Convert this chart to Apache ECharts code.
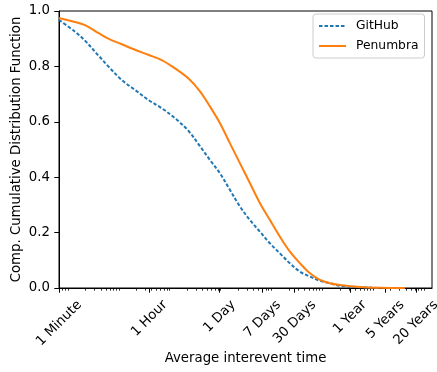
<!DOCTYPE html>
<html><head><meta charset="utf-8">
<script src="https://cdn.jsdelivr.net/npm/echarts@6/dist/echarts.min.js"></script>
<style>html,body{margin:0;padding:0;background:#fff}#c{width:437px;height:372px}</style>
</head><body><div id="c"></div>
<script>
// Average interevent time (seconds)
const intereventSeconds = [60, 124, 195, 355, 560, 1026, 1875, 3422, 6280, 11460, 20940, 35530, 55960, 87900, 138300, 217700, 342000, 538000, 847000, 1330000, 2090000, 3300000, 5180000, 8150000, 12800000, 20100000, 49800000, 123000000, 382000000];
const githubCCDF   = [0.968, 0.925, 0.893, 0.840, 0.800, 0.751, 0.715, 0.679, 0.649, 0.613, 0.568, 0.512, 0.462, 0.414, 0.354, 0.294, 0.245, 0.203, 0.161, 0.125, 0.089, 0.059, 0.041, 0.026, 0.017, 0.008, 0.003, 0.0, null];
const penumbraCCDF = [0.975, 0.960, 0.949, 0.921, 0.900, 0.880, 0.860, 0.842, 0.823, 0.793, 0.757, 0.710, 0.655, 0.595, 0.522, 0.450, 0.378, 0.306, 0.245, 0.185, 0.131, 0.089, 0.053, 0.029, 0.017, 0.011, 0.004, 0.001, 0.0];
const tickSeconds = [60, 3600, 86400, 604800, 2592000, 31536000, 157680000, 630720000];
const tickLabels  = ['1 Minute', '1 Hour', '1 Day', '7 Days', '30 Days', '1 Year', '5 Years', '20 Years'];
const seriesNames = ['GitHub', 'Penumbra'];

const FONT = '"DejaVu Sans", sans-serif';
const FS = 13.3;
const LFS = 12.3;
const X_MIN = 60, X_MAX = 1.3e9;

const ctx = document.createElement('canvas').getContext('2d');
ctx.font = FS + 'px "DejaVu Sans"';
const rich = {};
tickLabels.forEach((t, i) => {
  const q = ctx.measureText(t).width / 2;
  rich['t' + i] = { fontSize: FS, fontFamily: FONT, color: '#000', padding: [q, q, 0, 0] };
});

const minorTicks = [];
for (let e = 1; e <= 9; e++) for (let k = 2; k <= 9; k++) {
  const v = k * Math.pow(10, e);
  if (v > X_MIN && v < X_MAX) minorTicks.push(v);
}

function labelFor(v) {
  for (let i = 0; i < tickSeconds.length; i++) {
    if (Math.abs(Math.log10(v) - Math.log10(tickSeconds[i])) < 1e-4) return '{t' + i + '|' + tickLabels[i] + '}';
  }
  return '';
}

const chart = echarts.init(document.getElementById('c'), null, { renderer: 'canvas' });
chart.setOption({
  animation: false,
  backgroundColor: '#fff',
  textStyle: { fontFamily: FONT },
  grid: { left: 59, right: 5, top: 11, bottom: 84, show: true, borderColor: '#000', borderWidth: 1, containLabel: false, outerBoundsMode: 'none' },
  legend: {
    data: seriesNames, orient: 'vertical', left: 313, top: 14,
    itemWidth: 27, itemHeight: 10, itemGap: 6,
    padding: [5, 6, 5, 5],
    borderColor: '#cccccc', borderWidth: 1, borderRadius: 3, backgroundColor: '#fff',
    itemStyle: { opacity: 0, borderWidth: 0 },
    textStyle: { fontSize: LFS, fontFamily: FONT, color: '#000', padding: [0, 0, 0, 5], lineHeight: 14 }
  },
  xAxis: [{
    type: 'log', logBase: 10, min: X_MIN, max: X_MAX, position: 'bottom',
    name: 'Average interevent time', nameLocation: 'middle', nameGap: 64, nameMoveOverlap: false,
    nameTextStyle: { fontSize: FS, fontFamily: FONT, color: '#000' },
    axisLine: { show: true, lineStyle: { color: '#000', width: 1 } },
    axisTick: { show: true, customValues: tickSeconds, length: 4.7, lineStyle: { color: '#000', width: 1 } },
    axisLabel: { show: true, customValues: tickSeconds, rotate: 45, align: 'center', verticalAlign: 'middle', margin: 14.8, formatter: labelFor, rich: rich, fontSize: FS, fontFamily: FONT, color: '#000' },
    splitLine: { show: false }, minorTick: { show: false }
  }, {
    type: 'log', logBase: 10, min: X_MIN, max: X_MAX, position: 'bottom',
    axisLine: { show: false },
    axisTick: { show: true, customValues: minorTicks, length: 2.7, lineStyle: { color: '#000', width: 0.8 } },
    axisLabel: { show: false },
    splitLine: { show: false }
  }],
  yAxis: {
    type: 'value', min: 0, max: 1, interval: 0.2,
    name: 'Comp. Cumulative Distribution Function', nameLocation: 'middle', nameGap: 36, nameMoveOverlap: false,
    nameTextStyle: { fontSize: FS, fontFamily: FONT, color: '#000' },
    axisLine: { show: true, lineStyle: { color: '#000', width: 1 } },
    axisTick: { show: true, length: 4.7, lineStyle: { color: '#000', width: 1 } },
    axisLabel: { formatter: v => v.toFixed(1), fontSize: FS, fontFamily: FONT, color: '#000', margin: 9 },
    splitLine: { show: false }
  },
  series: [{
    name: seriesNames[0], type: 'line', xAxisIndex: 0,
    data: intereventSeconds.map((x, i) => [x, githubCCDF[i]]),
    symbol: 'none', smooth: 0.35,
    lineStyle: { color: '#1f77b4', width: 2, type: [3.5, 2] },
    itemStyle: { color: '#1f77b4' }
  }, {
    name: seriesNames[1], type: 'line', xAxisIndex: 0,
    data: intereventSeconds.map((x, i) => [x, penumbraCCDF[i]]),
    symbol: 'none', smooth: 0.35,
    lineStyle: { color: '#ff7f0e', width: 2, type: 'solid' },
    itemStyle: { color: '#ff7f0e' }
  }]
});
</script>
</body></html>
